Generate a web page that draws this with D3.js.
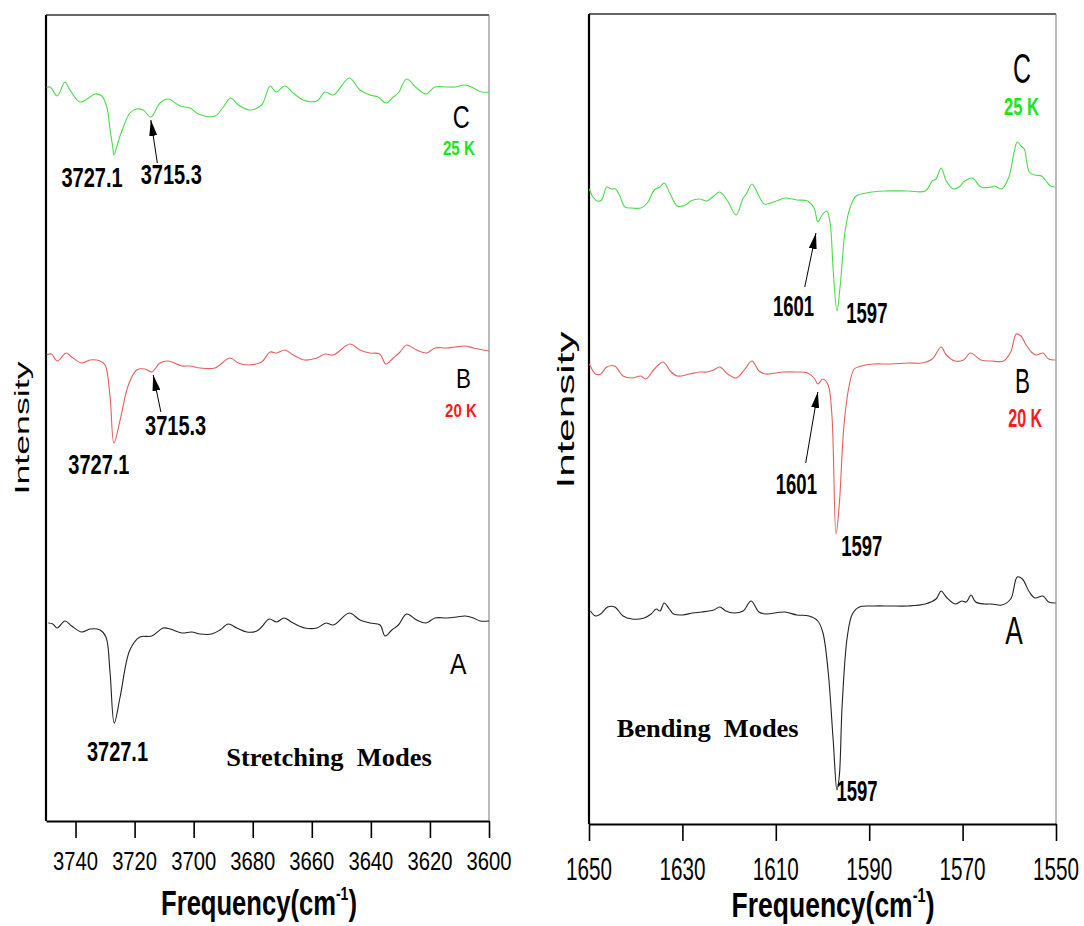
<!DOCTYPE html>
<html><head><meta charset="utf-8">
<script src="https://cdn.jsdelivr.net/npm/d3@7"></script>
<style>html,body{margin:0;padding:0;background:#fff;}svg{display:block;}</style>
</head><body>
<svg id="chart" width="1084" height="926"></svg>
<script>
// ---------- DATA (frequency cm-1, intensity arb. units) ----------
const stretchTicks = [3740, 3720, 3700, 3680, 3660, 3640, 3620, 3600];
const bendTicks = [1650, 1630, 1610, 1590, 1570, 1550];

const stretchC = [[3749.8,733],[3748.6,734],[3746.2,725],[3743.6,739],[3741.9,731],[3738.5,719],[3735.1,724],[3733.4,727],[3731.1,725],[3729.4,714],[3728.3,691],[3727.4,674],[3727.0,666],[3725.4,681],[3723.8,694],[3721.6,708],[3719.3,712],[3717.1,711],[3714.5,704],[3711.4,718],[3708.6,722],[3704.6,715],[3701.2,713],[3698.4,707],[3692.8,705],[3690.2,713],[3687.5,723],[3684.9,716],[3681.0,711],[3677.0,716],[3674.1,735],[3672.1,729],[3669.1,735],[3666.3,728],[3662.9,721],[3658.3,720],[3655.5,729],[3652.7,726],[3647.3,743],[3643.7,731],[3640.3,726],[3637.5,724],[3634.9,718],[3632.4,724],[3630.7,728],[3627.9,742],[3624.5,733],[3621.3,727],[3618.3,734],[3614.3,734],[3611.5,734],[3608.1,736],[3605.3,733],[3602.5,729],[3600,729]];
const stretchB = [[3749.8,466],[3748.1,467],[3746.2,460],[3743.2,468],[3741.3,464],[3737.9,458],[3735.1,461],[3731.7,460],[3730.0,456],[3728.3,424],[3727.0,378],[3724.9,401],[3722.1,436],[3719.3,451],[3716.5,452],[3714.2,449],[3711.4,458],[3708.6,460],[3704.0,455],[3701.2,455],[3697.8,453],[3692.8,453],[3687.7,463],[3684.9,458],[3681.5,456],[3677.0,459],[3674.1,469],[3671.9,468],[3669.1,471],[3666.3,466],[3662.3,461],[3658.3,463],[3655.5,467],[3652.7,466],[3647.1,477],[3643.7,471],[3640.3,468],[3637.0,467],[3634.9,457],[3632.4,463],[3630.1,469],[3627.9,476],[3624.5,471],[3621.1,468],[3618.3,473],[3614.3,473],[3611.5,474],[3608.1,475],[3605.3,473],[3601.9,471],[3600,470]];
const stretchA = [[3749.2,198],[3747.7,197],[3746.2,193],[3743.6,200],[3741.3,195],[3737.9,189],[3735.1,192],[3731.7,191],[3729.7,184],[3728.3,148],[3726.9,98],[3724.9,124],[3721.6,171],[3718.2,184],[3714.2,185],[3710.3,193],[3708.0,192],[3704.0,188],[3700.7,189],[3697.8,187],[3693.9,187],[3691.1,191],[3688.3,197],[3685.4,193],[3682.0,189],[3678.6,190],[3677.0,194],[3674.4,202],[3671.9,199],[3669.4,203],[3666.3,198],[3662.3,193],[3658.3,193],[3655.2,198],[3652.7,196],[3647.3,208],[3643.7,201],[3640.3,198],[3636.9,196],[3635.2,185],[3632.9,191],[3630.7,196],[3627.9,207],[3624.5,201],[3621.3,198],[3618.3,203],[3614.3,203],[3610.9,204],[3608.1,205],[3605.3,203],[3603.0,200],[3600,200]];

const bendC = [[1649.9,635],[1649.3,628],[1648.2,623],[1647.3,624],[1646.2,637],[1645.2,635],[1644.3,635],[1643.4,628],[1642.3,617],[1640.8,616],[1638.9,616],[1637.5,621],[1636.0,634],[1634.8,637],[1633.9,641],[1632.6,630],[1631.1,618],[1629.3,619],[1628.2,623],[1626.3,625],[1624.8,623],[1623.3,628],[1622.0,632],[1620.3,623],[1618.5,609],[1617.0,626],[1616.3,630],[1615.1,640],[1613.6,628],[1612.5,620],[1609.9,623],[1608.1,626],[1605.5,624],[1603.2,623],[1601.8,616],[1601.0,602],[1600.1,609],[1599.1,613],[1598.4,602],[1597.7,553],[1596.9,513],[1596.2,539],[1595.1,595],[1593.9,619],[1592.8,628],[1590.6,631],[1586.9,633],[1581.7,633],[1578.0,633],[1576.5,643],[1575.7,645],[1574.6,656],[1573.5,643],[1572.0,635],[1570.5,638],[1569.8,642],[1567.9,646],[1566.1,637],[1563.8,637],[1563.1,638],[1561.6,635],[1560.1,647],[1559.0,671],[1558.3,682],[1557.5,678],[1556.8,675],[1555.7,652],[1554.5,649],[1553.1,648],[1552.3,644],[1551.2,638],[1550.1,637]];
const bendB = [[1649.9,460],[1648.6,450],[1647.5,450],[1646.2,457],[1644.5,458],[1642.7,448],[1640.8,446],[1638.9,448],[1637.8,445],[1636.0,455],[1634.1,462],[1632.6,453],[1631.1,448],[1628.5,450],[1626.3,452],[1624.8,452],[1623.3,454],[1622.0,457],[1620.3,450],[1618.5,446],[1616.6,455],[1615.1,463],[1613.6,453],[1612.2,450],[1608.4,452],[1605.5,452],[1603.2,451],[1601.8,446],[1601.0,440],[1599.9,445],[1598.8,439],[1598.0,410],[1597.1,290],[1596.4,320],[1595.4,399],[1594.3,438],[1593.2,455],[1591.7,458],[1589.1,460],[1585.4,460],[1581.7,461],[1578.7,461],[1576.5,465],[1574.6,477],[1573.5,469],[1571.6,463],[1569.8,464],[1568.3,471],[1566.1,464],[1563.8,463],[1561.2,463],[1559.7,472],[1558.5,490],[1557.5,488],[1556.4,479],[1555.3,472],[1554.2,469],[1552.8,471],[1551.6,465],[1550.1,464]];
const bendA = [[1649.7,213],[1648.6,208],[1647.5,210],[1646.0,217],[1644.5,217],[1642.7,208],[1640.8,205],[1638.2,206],[1636.7,210],[1635.6,215],[1634.8,213],[1633.9,221],[1632.8,215],[1631.9,210],[1630.0,209],[1627.8,211],[1625.9,212],[1623.3,214],[1622.0,217],[1620.7,213],[1618.9,211],[1617.0,213],[1615.3,223],[1613.6,212],[1612.2,210],[1608.1,212],[1605.5,209],[1602.9,208],[1601.0,203],[1599.9,191],[1598.8,153],[1597.7,83],[1596.9,34],[1596.4,48],[1595.8,118],[1594.7,187],[1593.6,210],[1592.1,217],[1589.1,218],[1585.4,218],[1581.7,218],[1578.0,220],[1575.7,225],[1574.6,233],[1573.5,227],[1571.6,220],[1570.2,223],[1569.2,222],[1568.2,229],[1567.2,222],[1565.3,220],[1563.8,220],[1561.6,219],[1559.7,225],[1558.3,247],[1557.2,245],[1555.7,232],[1554.5,226],[1552.8,228],[1551.6,222],[1550.1,221]];

// annotations: [text, freq, intensity]
const stretchPeakLabels = [["3727.1",3734.4,634],["3715.3",3707.6,637],["3715.3",3706.1,386],["3727.1",3732.1,347],["3727.1",3725.8,60]];
const bendPeakLabels = [["1601",1606.2,508],["1597",1590.5,501],["1601",1605.6,330],["1597",1591.6,268],["1597",1592.6,23]];
// arrows: [tailFreq, tailI, tipFreq, tipI]
const stretchArrows = [[3712.3,658,3714.5,701],[3711.1,409,3713.7,446]];
const bendArrows = [[1603.8,537,1601.4,591],[1603.6,361,1601.0,432]];

// ---------- DRAW ----------
const svg = d3.select("#chart");
const NARROW = "'Liberation Sans Narrow','Arial Narrow','Liberation Sans',Arial,sans-serif";
const SANS = "'Liberation Sans',Arial,sans-serif";
const SERIF = "'Liberation Serif','Times New Roman',serif";
const GREEN_LINE = "#4cdc4c", RED_LINE = "#e36060", BLACK_LINE = "#222";
const GREEN_TXT = "#19e619", RED_TXT = "#ff1a1a";

svg.append("defs").append("marker")
  .attr("id","ah").attr("viewBox","0 0 16 8").attr("refX",16).attr("refY",4)
  .attr("markerWidth",16).attr("markerHeight",8).attr("markerUnits","userSpaceOnUse")
  .attr("orient","auto")
  .append("path").attr("d","M0,0 L16,4 L0,8 Z").attr("fill","#000");

// text fitted to a given width (and size for height)
function fitText(g, o) {
  const grp = g.append("g");
  const t = grp.append("text")
    .attr("text-anchor", o.anchor || "middle")
    .attr("font-family", o.family).attr("font-size", o.size)
    .attr("font-weight", o.weight || "normal").attr("fill", o.fill || "#000")
    .style("white-space","pre");
  if (o.parts) {
    o.parts.forEach(p => {
      const ts = t.append("tspan").text(p.t);
      if (p.sup) ts.attr("font-size", o.size*0.55).attr("dy", -o.size*0.42);
      if (p.down) ts.attr("dy", o.size*0.42);
    });
  } else t.text(o.text);
  const w = t.node().getBBox().width;
  const sx = o.width ? o.width / w : 1;
  const sy = o.sy || 1;
  grp.attr("transform", `translate(${o.x},${o.y}) rotate(${o.rotate||0}) scale(${sx},${sy})`);
  return grp;
}

function panel(cfg) {
  const g = svg.append("g");
  const x = d3.scaleLinear().domain(cfg.xDomain).range([cfg.left, cfg.right]);
  const y = d3.scaleLinear().domain(cfg.yDomain).range([cfg.bottom, cfg.top]);
  const line = d3.line().x(d => x(d[0])).y(d => y(d[1])).curve(d3.curveCatmullRom.alpha(0.5));

  // frame
  g.append("line").attr("x1",cfg.left).attr("x2",cfg.right).attr("y1",cfg.top).attr("y2",cfg.top).attr("stroke","#333").attr("stroke-width",1.5);
  g.append("line").attr("x1",cfg.right).attr("x2",cfg.right).attr("y1",cfg.top).attr("y2",cfg.bottom).attr("stroke","#777").attr("stroke-width",1);
  g.append("line").attr("x1",cfg.left).attr("x2",cfg.left).attr("y1",cfg.top).attr("y2",cfg.bottom).attr("stroke","#000").attr("stroke-width",2.2);

  // series
  cfg.series.forEach(s => {
    g.append("path").datum(s.data).attr("d", line).attr("fill","none")
      .attr("stroke", s.color).attr("stroke-width", 1.1);
  });

  // x axis
  const ax = g.append("g").attr("transform", `translate(0,${cfg.bottom})`)
    .call(d3.axisBottom(x).tickValues(cfg.ticks).tickSize(17).tickSizeOuter(0).tickFormat(d3.format("d")));
  ax.select(".domain").attr("stroke","#000").attr("stroke-width",2.2);
  ax.selectAll(".tick line").attr("stroke","#000").attr("stroke-width",1.6);
  ax.selectAll(".tick text").remove();
  cfg.ticks.forEach(tv => {
    fitText(g, {x: x(tv), y: cfg.bottom + cfg.tickBase, text: String(tv), family: NARROW,
      size: cfg.tickSize, width: cfg.tickW});
  });

  // axis titles
  fitText(g, {x: cfg.titleX, y: cfg.titleY, family: NARROW, size: cfg.titleSize, weight: "bold",
    width: cfg.titleW, parts: [{t:"Frequency(cm"},{t:"-1",sup:true},{t:")",down:true}]});
  fitText(g, {x: cfg.ylabX, y: cfg.ylabY, text: "Intensity", family: SANS, size: cfg.ylabSize,
    width: cfg.ylabW, rotate: -90});

  // peak labels
  cfg.peakLabels.forEach(p => {
    fitText(g, {x: x(p[1]), y: y(p[2]), text: p[0], family: NARROW, size: cfg.peakSize,
      weight: "bold", width: cfg.peakW * p[0].length});
  });
  // arrows
  cfg.arrows.forEach(a => {
    g.append("line").attr("x1", x(a[0])).attr("y1", y(a[1])).attr("x2", x(a[2])).attr("y2", y(a[3]))
      .attr("stroke","#000").attr("stroke-width",1).attr("marker-end","url(#ah)");
  });
  // series letters and temperatures
  cfg.tags.forEach(t => {
    fitText(g, {x: x(t.f), y: y(t.i), text: t.text, family: t.bold ? NARROW : SANS,
      size: t.size, weight: t.bold ? "bold" : "normal", fill: t.fill || "#000", width: t.w});
  });
  // mode caption
  fitText(g, {x: x(cfg.caption.f), y: y(cfg.caption.i), text: cfg.caption.text, family: SERIF,
    size: cfg.caption.size, weight: "bold", width: cfg.caption.w});
}

panel({
  xDomain: [3750, 3600], yDomain: [0, 806], left: 46, right: 489, top: 15, bottom: 821,
  ticks: stretchTicks, tickBase: 49, tickSize: 25, tickW: 45,
  titleX: 259, titleY: 915, titleSize: 35, titleW: 196,
  ylabX: 29, ylabY: 428, ylabSize: 21, ylabW: 134,
  series: [{data: stretchC, color: GREEN_LINE},{data: stretchB, color: RED_LINE},{data: stretchA, color: BLACK_LINE}],
  peakLabels: stretchPeakLabels, peakSize: 27, peakW: 10.2,
  arrows: stretchArrows,
  tags: [
    {text:"C", f:3609.4, i:693, size:31, w:17},
    {text:"25 K", f:3610.2, i:666, size:21, w:32, bold:true, fill:GREEN_TXT},
    {text:"B", f:3608.6, i:433, size:28, w:15},
    {text:"20 K", f:3609.5, i:404, size:19, w:32, bold:true, fill:RED_TXT},
    {text:"A", f:3610.4, i:147, size:29, w:17}
  ],
  caption: {text:"Stretching  Modes", f:3654.2, i:55, size:25, w:206}
});

panel({
  xDomain: [1650, 1550], yDomain: [0, 810], left: 589, right: 1056, top: 14, bottom: 824,
  ticks: bendTicks, tickBase: 56, tickSize: 32, tickW: 46,
  titleX: 833, titleY: 917, titleSize: 36, titleW: 203,
  ylabX: 574, ylabY: 410, ylabSize: 23, ylabW: 158,
  series: [{data: bendC, color: GREEN_LINE},{data: bendB, color: RED_LINE},{data: bendA, color: BLACK_LINE}],
  peakLabels: bendPeakLabels, peakSize: 30, peakW: 10.3,
  arrows: bendArrows,
  tags: [
    {text:"C", f:1557.3, i:741, size:43, w:18},
    {text:"25 K", f:1557.4, i:709, size:24, w:35.5, bold:true, fill:GREEN_TXT},
    {text:"B", f:1557.2, i:431, size:35, w:15},
    {text:"20 K", f:1556.6, i:397, size:25, w:34, bold:true, fill:RED_TXT},
    {text:"A", f:1559.0, i:180, size:38, w:18}
  ],
  caption: {text:"Bending  Modes", f:1624.6, i:87, size:26, w:182}
});
</script>
</body></html>
